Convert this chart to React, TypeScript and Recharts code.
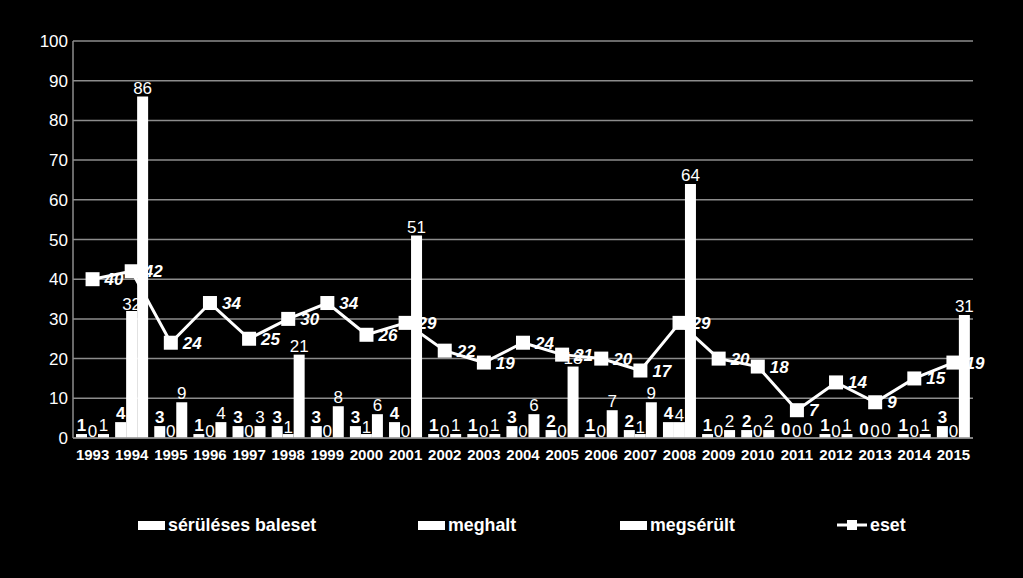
import React from "react";
import {
  ComposedChart,
  Bar,
  Line,
  XAxis,
  YAxis,
  CartesianGrid,
  LabelList,
  Legend,
} from "recharts";

const years = [
  "1993", "1994", "1995", "1996", "1997", "1998", "1999", "2000", "2001", "2002", "2003", "2004",
  "2005", "2006", "2007", "2008", "2009", "2010", "2011", "2012", "2013", "2014", "2015",
];
const accidents = [1, 4, 3, 1, 3, 3, 3, 3, 4, 1, 1, 3, 2, 1, 2, 4, 1, 2, 0, 1, 0, 1, 3];
const deaths = [0, 32, 0, 0, 0, 1, 0, 1, 0, 0, 0, 0, 0, 0, 1, 4, 0, 0, 0, 0, 0, 0, 0];
const injured = [1, 86, 9, 4, 3, 21, 8, 6, 51, 1, 1, 6, 18, 7, 9, 64, 2, 2, 0, 1, 0, 1, 31];
const cases = [40, 42, 24, 34, 25, 30, 34, 26, 29, 22, 19, 24, 21, 20, 17, 29, 20, 18, 7, 14, 9, 15, 19];
const yTicks = [0, 10, 20, 30, 40, 50, 60, 70, 80, 90, 100];

const data = years.map((year, i) => ({
  year,
  baleset: accidents[i],
  meghalt: deaths[i],
  megserult: injured[i],
  eset: cases[i],
}));

const FONT = "'Liberation Sans', Arial, sans-serif";
const GRID = "#8c8c8c";

const legendItems = [
  { label: "sérüléses baleset", left: 138, kind: "bar" },
  { label: "meghalt", left: 418, kind: "bar" },
  { label: "megsérült", left: 620, kind: "bar" },
  { label: "eset", left: 837, kind: "line" },
];

function LegendContent() {
  return (
    <div style={{ position: "relative", width: 973, height: 40, fontFamily: FONT }}>
      {legendItems.map(item => (
        <div
          key={item.label}
          style={{
            position: "absolute",
            left: item.left,
            top: 10,
            height: 20,
            display: "flex",
            alignItems: "center",
            color: "#fff",
            fontWeight: "bold",
            fontSize: 17.8,
            whiteSpace: "nowrap",
          }}
        >
          {item.kind === "bar" ? (
            <div style={{ width: 27, height: 9, background: "#fff", marginRight: 3 }} />
          ) : (
            <svg width={30} height={12} style={{ marginRight: 3 }}>
              <line x1={0} y1={6} x2={30} y2={6} stroke="#fff" strokeWidth={3} />
              <rect x={10} y={1} width={10} height={10} fill="#fff" />
            </svg>
          )}
          <span>{item.label}</span>
        </div>
      ))}
    </div>
  );
}

function SquareDot(props: any) {
  const { cx, cy, index } = props;
  if (cx == null || cy == null) return <g key={index} />;
  return <rect key={index} x={cx - 7} y={cy - 7} width={14} height={14} fill="#fff" />;
}

export default function App() {
  return (
    <div
      style={{
        position: "absolute",
        top: 0,
        left: 0,
        width: 1023,
        height: 578,
        background: "#000",
        fontFamily: FONT,
      }}
    >
      <ComposedChart
        width={1023}
        height={578}
        data={data}
        margin={{ top: 41, right: 50, bottom: 33, left: 0 }}
        barCategoryGap={5}
        barGap={0}
      >
        <CartesianGrid vertical={false} stroke={GRID} strokeWidth={1.5} />
        <XAxis
          dataKey="year"
          height={67}
          axisLine={{ stroke: GRID, strokeWidth: 1.5 }}
          tickLine={false}
          tickSize={0}
          tickMargin={11}
          interval={0}
          tick={{ fill: "#fff", fontSize: 15, fontWeight: "bold", fontFamily: FONT }}
        />
        <YAxis
          width={73}
          domain={[0, 100]}
          ticks={yTicks}
          interval={0}
          axisLine={{ stroke: GRID, strokeWidth: 1.5 }}
          tickLine={false}
          tickSize={0}
          tickMargin={5}
          tick={{ fill: "#fff", fontSize: 17, fontFamily: FONT }}
        />
        <Legend verticalAlign="bottom" content={<LegendContent />} />
        <Bar dataKey="baleset" name="sérüléses baleset" fill="#fff" barSize={11} minPointSize={0.01} isAnimationActive={false}>
          <LabelList
            dataKey="baleset"
            position="top"
            offset={3}
            fill="#fff"
            fontSize={17}
            fontWeight="bold"
            fontFamily={FONT}
          />
        </Bar>
        <Bar dataKey="meghalt" name="meghalt" fill="#fff" barSize={11} minPointSize={0.01} isAnimationActive={false}>
          <LabelList dataKey="meghalt" position="top" offset={1} fill="#fff" fontSize={17} fontFamily={FONT} />
        </Bar>
        <Bar dataKey="megserult" name="megsérült" fill="#fff" barSize={11} minPointSize={0.01} isAnimationActive={false}>
          <LabelList dataKey="megserult" position="top" offset={3} fill="#fff" fontSize={17} fontFamily={FONT} />
        </Bar>
        <Line
          dataKey="eset"
          name="eset"
          stroke="#fff"
          strokeWidth={3}
          dot={SquareDot}
          activeDot={false}
          isAnimationActive={false}
        >
          <LabelList
            dataKey="eset"
            position="right"
            offset={12}
            fill="#fff"
            fontSize={17}
            fontWeight="bold"
            fontStyle="italic"
            fontFamily={FONT}
          />
        </Line>
      </ComposedChart>
    </div>
  );
}
